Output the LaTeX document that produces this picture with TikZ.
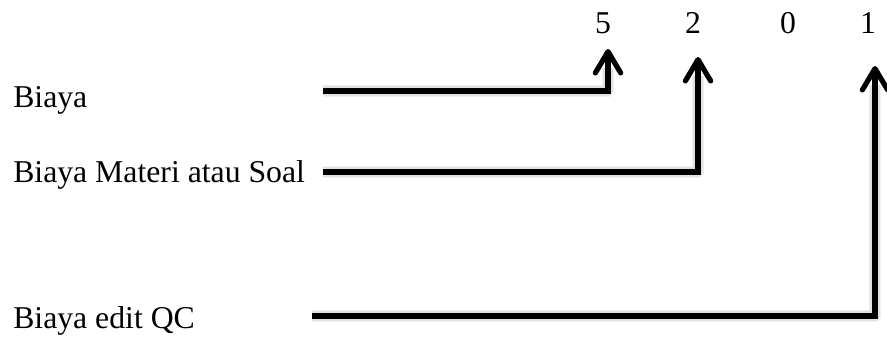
\documentclass[tikz,border=0pt]{standalone}
\usepackage{fontspec}
\setmainfont{Liberation Serif}
\usetikzlibrary{arrows.meta}
\begin{document}
\begin{tikzpicture}[x=0.75pt,y=-0.75pt,
  label/.style={anchor=base west,inner sep=0pt,font=\fontsize{23.8pt}{28pt}\selectfont},
  digit/.style={anchor=base,inner sep=0pt,font=\fontsize{23.8pt}{28pt}\selectfont},
  link/.style={line width=3.9pt,line join=miter,line cap=butt,
    -{Straight Barb[length=16pt,width=19pt,line cap=round,line join=round]}},
  halo/.style={line width=#1,draw=black,draw opacity=0.06,line join=round},
]
\useasboundingbox (0,0) rectangle (887,338);

% digits along the top
\node[digit] (d5) at (603,34) {5};
\node[digit] (d2) at (693,34) {2};
\node[digit] (d0) at (788,34) {0};
\node[digit] (d1) at (868,34) {1};

% cost labels
\node[label] (biaya)  at (13,108) {Biaya};
\node[label] (materi) at (13,183) {Biaya Materi atau Soal};
\node[label] (qc)     at (13,328) {Biaya edit QC};

% start, corner and tip points of the connectors
\coordinate (s1) at (323,91);  \coordinate (c1) at (608,91);  \coordinate (t1) at (608,49);
\coordinate (s2) at (323,172); \coordinate (c2) at (698,172); \coordinate (t2) at (698,57);
\coordinate (s3) at (312,316); \coordinate (c3) at (875,316); \coordinate (t3) at (875,66);

% soft drop shadow under each connector
\foreach \w in {9pt,7pt,5pt}{
  \foreach \s/\c/\t in {s1/c1/t1,s2/c2/t2,s3/c3/t3}{
    \draw[halo=\w,shift={(2,4)}] (\s) -- (\c) -- ([yshift=-14pt]\t);
  }
}

% connectors
\draw[link] (s1) -- (c1) -- (t1);
\draw[link] (s2) -- (c2) -- (t2);
\draw[link] (s3) -- (c3) -- (t3);
\end{tikzpicture}
\end{document}
